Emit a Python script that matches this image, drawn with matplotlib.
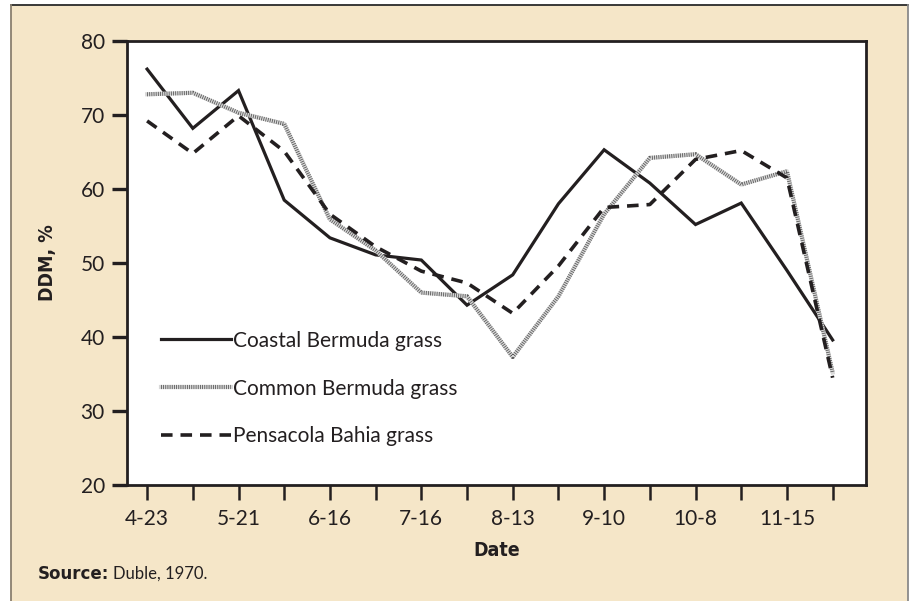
import matplotlib
matplotlib.use("Agg")
import matplotlib.pyplot as plt
from matplotlib.lines import Line2D
from matplotlib.patches import Rectangle

dates = ["4-23", "", "5-21", "", "6-16", "", "7-16", "", "8-13", "", "9-10", "", "10-8", "", "11-15", ""]
coastal = [76.2, 68.2, 73.3, 58.5, 53.4, 51.1, 50.4, 44.3, 48.4, 58.0, 65.3, 60.8, 55.2, 58.1, 49.0, 39.6]
common = [72.8, 73.0, 70.3, 68.8, 55.9, 51.7, 46.0, 45.5, 37.3, 45.5, 56.6, 64.2, 64.7, 60.6, 62.4, 35.2]
pensacola = [69.2, 64.8, 69.9, 65.1, 56.6, 52.2, 48.9, 47.3, 43.2, 49.6, 57.5, 57.9, 64.0, 65.2, 61.5, 34.5]

ink = "#231f20"
cream = "#f5e6c8"
plt.rcParams["font.family"] = ["Lato", "DejaVu Sans"]
boldfam = ["DejaVu Sans", "Roboto"]

fig = plt.figure(figsize=(9.15, 6.01), dpi=100, facecolor="white")
W, H = 915, 601

# cream panel with frame lines
fig.add_artist(Rectangle((11 / W, 0), (908 - 11) / W, 1 - 5 / H, transform=fig.transFigure,
                         facecolor=cream, edgecolor="none", zorder=0))
fig.add_artist(Line2D([11 / W, 908 / W], [1 - 5 / H, 1 - 5 / H], transform=fig.transFigure, color="#2a2a2a", lw=1.3))
fig.add_artist(Line2D([11 / W, 11 / W], [0, 1 - 5 / H], transform=fig.transFigure, color="#8a8070", lw=1.3))
fig.add_artist(Line2D([908 / W, 908 / W], [0, 1 - 5 / H], transform=fig.transFigure, color="#8a8a8a", lw=1.3))

ax = fig.add_axes([127 / W, 1 - 485 / H, (866 - 127) / W, (485 - 41) / H])
ax.set_facecolor("white")
x = list(range(len(dates)))

l1, = ax.plot(x, coastal, color=ink, lw=2.3, solid_joinstyle="miter")
c_base, = ax.plot(x, common, color="#d8d8d8", lw=3.0)
c_top, = ax.plot(x, common, color="#5a5a5a", lw=3.0, linestyle=(0, (0.2, 0.32)))
l3, = ax.plot(x, pensacola, color=ink, lw=2.6, linestyle=(0, (3.2, 2.2)))

ax.set_xlim(-0.44, 15.73)
ax.set_ylim(20, 80)
ax.set_yticks([20, 30, 40, 50, 60, 70, 80])
ax.set_xticks(x)
ax.set_xticklabels(dates)

for s in ax.spines.values():
    s.set_linewidth(2.0)
    s.set_color(ink)
ax.tick_params(axis="y", direction="out", length=11, width=2.4, color=ink, labelsize=15, labelcolor=ink, pad=5)
ax.tick_params(axis="x", direction="out", length=11, width=1.8, color=ink, labelsize=15, labelcolor=ink, pad=6)

ax.set_ylabel("DDM, %", fontsize=14, fontweight="heavy", family=boldfam, fontstretch="condensed",
              color=ink, labelpad=17)
ax.set_xlabel("Date", fontsize=14, fontweight="heavy", family=boldfam, fontstretch="condensed",
              color=ink, labelpad=9)

ax.legend([l1, (c_base, c_top), l3],
          ["Coastal Bermuda grass", "Common Bermuda grass", "Pensacola Bahia grass"],
          loc="upper left", bbox_to_anchor=(0.02, 0.39), frameon=False, fontsize=15,
          handlelength=3.4, handletextpad=0.1, labelspacing=1.34, labelcolor=ink)

src = fig.text(38 / W, 1 - 574 / H, "Source:", fontsize=12, fontweight="bold",
               family=boldfam, color=ink, va="center")
fig.canvas.draw()
bb = src.get_window_extent()
fig.text((bb.x1 + 4) / W, 1 - 574 / H, "Duble, 1970.", fontsize=12, color=ink, va="center")

fig.savefig("out.png", dpi=100, facecolor=fig.get_facecolor())
